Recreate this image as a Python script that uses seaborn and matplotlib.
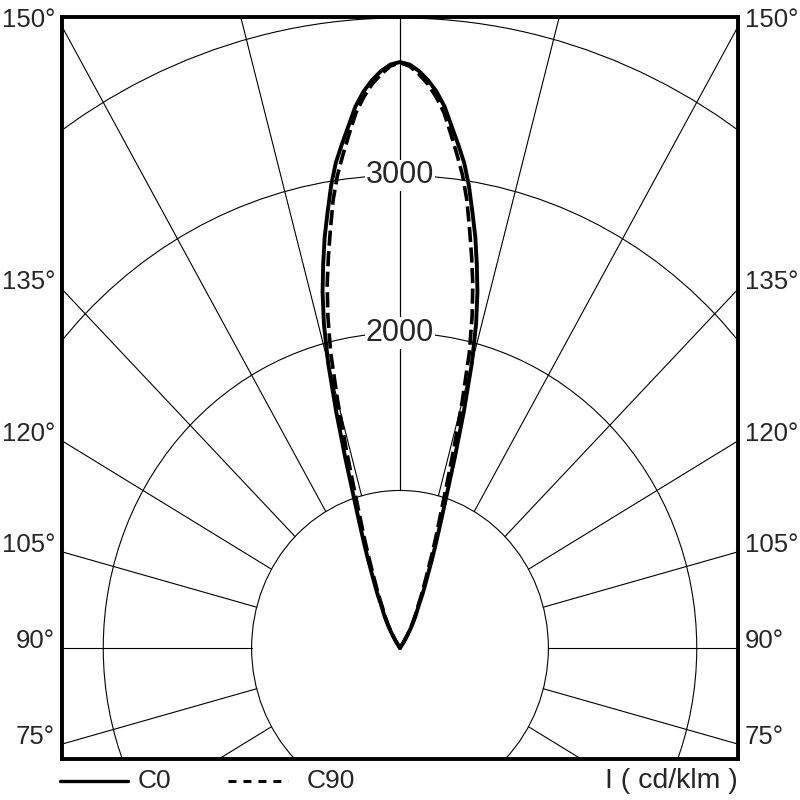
import numpy as np
import pandas as pd
import seaborn as sns
import matplotlib.pyplot as plt
from matplotlib.patches import Circle

# Photometric data (angle from nadir in degrees, intensity in cd/klm)
theta = [90, 120, 140, 144, 145, 146, 147, 148, 149, 150, 151, 152, 153, 154, 155,
         156, 157, 158, 159, 160, 161, 162, 163, 164, 165, 166, 167, 168, 169,
         170, 171, 172, 173, 174, 175, 176, 177, 178, 179, 180]
c0 = [0, 0, 0, 0, 20, 40, 60, 85, 115, 145, 175, 205, 235, 265, 300,
      370, 430, 500, 600, 710, 840, 1010, 1260, 1560, 1870, 2120, 2320, 2490, 2660,
      2810, 2970, 3110, 3220, 3330, 3450, 3540, 3610, 3665, 3705, 3720]
c90 = [0, 0, 0, 0, 10, 25, 45, 65, 95, 120, 150, 180, 210, 240, 270,
       320, 380, 440, 520, 620, 740, 870, 1060, 1320, 1620, 1930, 2160, 2360, 2530,
       2700, 2880, 3030, 3155, 3280, 3410, 3505, 3585, 3645, 3695, 3715]

rings = [1000, 2000, 3000, 4000]
ring_labels = ["2000", "3000"]
angle_labels = [75, 90, 105, 120, 135, 150]

sns.set_style("white")
plt.rcParams['font.family'] = ['Liberation Sans', 'DejaVu Sans']

XMAX = 2278
YMIN, YMAX = -705, 4006


def to_xy(angles, values):
    # left half goes up, right half comes back down -> one continuous path
    a = np.radians(np.array(angles, dtype=float))
    v = np.array(values, dtype=float)
    x = np.concatenate([-v * np.sin(a), (v * np.sin(a))[::-1]])
    y = np.concatenate([-v * np.cos(a), (-v * np.cos(a))[::-1]])
    return pd.DataFrame({"x": x, "y": y})


fig = plt.figure(figsize=(8, 8), dpi=100)
ax = fig.add_axes([62 / 800, 1 - 759 / 800, 676 / 800, 742 / 800])
ax.set_xlim(-XMAX, XMAX)
ax.set_ylim(YMIN, YMAX)
ax.set_xticks([])
ax.set_yticks([])
for s in ax.spines.values():
    s.set_linewidth(2.8)
    s.set_color("black")
    s.set_zorder(10)

# grid: rings and radial lines starting at the first ring
for r in rings:
    ax.add_patch(Circle((0, 0), r, fill=False, ec="black", lw=0.8, zorder=1))
for a in range(0, 181, 15):
    ar = np.radians(a)
    for sgn in (-1, 1):
        ax.plot([sgn * 1000 * np.sin(ar), sgn * 6000 * np.sin(ar)],
                [-1000 * np.cos(ar), -6000 * np.cos(ar)],
                color="black", lw=0.8, zorder=1)

for lab in ring_labels:
    ax.text(0, float(lab), lab, ha="center", va="center", fontsize=22, zorder=3,
            bbox=dict(fc="white", ec="none", pad=0.5))

# angle labels on both sides, baseline at the radial line crossing the frame
for a in angle_labels:
    ar = np.radians(a)
    y = -XMAX * np.cos(ar) / np.sin(ar)
    ax.annotate(f"{a}°", xy=(-XMAX, y), xytext=(-5, 0), textcoords="offset points",
                ha="right", va="baseline", fontsize=18.5, annotation_clip=False)
    ax.annotate(f"{a}°", xy=(XMAX, y), xytext=(5, 0), textcoords="offset points",
                ha="left", va="baseline", fontsize=18.5, annotation_clip=False)

# curves
sns.lineplot(data=to_xy(theta, c0), x="x", y="y", sort=False, estimator=None,
             color="black", lw=2.8, ax=ax, zorder=5)
sns.lineplot(data=to_xy(theta, c90), x="x", y="y", sort=False, estimator=None,
             color="black", lw=2.6, linestyle=(0, (4.2, 1.5)), ax=ax, zorder=6)
ax.set_xlabel("")
ax.set_ylabel("")

# legend row below the frame
ly = -0.0296
ax.plot([-0.003, 0.0976], [ly, ly], transform=ax.transAxes, clip_on=False,
        color="black", lw=2.4)
ax.text(0.112, ly, "C0", transform=ax.transAxes, ha="left", va="center", fontsize=19)
ax.plot([0.2456, 0.334], [ly, ly], transform=ax.transAxes, clip_on=False,
        color="black", lw=2.2, linestyle=(0, (2.6, 2.3)))
ax.text(0.362, ly, "C90", transform=ax.transAxes, ha="left", va="center", fontsize=19)
ax.text(1.0, ly, "I ( cd/klm )", transform=ax.transAxes, ha="right", va="center", fontsize=20.5)

fig.savefig("out.png", dpi=100)
